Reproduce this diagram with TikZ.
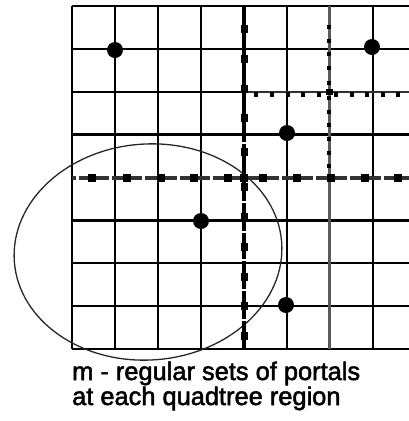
\documentclass[tikz,border=0pt]{standalone}
\usepackage{fontspec}
\setmainfont{Liberation Sans}
\font\capfnt="Liberation Sans:embolden=2" at 25.4bp
\begin{document}
\begin{tikzpicture}[x=1bp,y=-1bp,
  gridline/.style={line width=2.3bp,black},
  bigdot/.style={circle,fill=black,inner sep=0pt,minimum size=16bp},
  bigsq/.style={rectangle,fill=black,inner sep=0pt,minimum width=8bp,minimum height=8bp},
  vsq/.style={rectangle,fill=black,inner sep=0pt,minimum width=7bp,minimum height=8bp},
  smallsq/.style={rectangle,fill=black,inner sep=0pt,minimum width=4bp,minimum height=4.5bp},
  gapw/.style={line width=3.5bp,white},
  caption/.style={anchor=base west,inner sep=0pt,font=\capfnt}]
\useasboundingbox (0,0) rectangle (409,421);
\begin{scope}
\clip (0,0) rectangle (409,421);
% grid
\foreach \i in {0,...,8} {
  \draw[gridline] (72+43*\i,6) -- (72+43*\i,349);
  \draw[gridline] (72,6+42.875*\i) -- (420,6+42.875*\i);
}
% ellipse
\draw[line width=1.3bp,black!85] (148,252) [rotate around={4:(148,252)}] ellipse [x radius=134, y radius=108];
% grey vertical line at x=329
\draw[line width=3bp,black!65] (329,6) -- (329,349);
% horizontal dashed line y=178
\draw[line width=3.2bp,black!80] (72,178) -- (409,178);
\foreach \x in {77,110,143,178,211,280,314,348,382} {
  \draw[gapw] (\x-1.5,178) -- (\x+1.5,178);
}
% vertical dashed line x=244
\draw[line width=3.2bp,black] (244,6) -- (244,349);
\foreach \y in {143,202,232,260,290,320} {
  \draw[white,line width=3.6bp] (244,\y-1) -- (244,\y+1);
}
% horizontal dotted line y=92 right part
\draw[line width=2.4bp,black!80] (244,92) -- (409,92);
\end{scope}
% portals on horizontal y=178
\foreach \x [count=\n] in {92,127,161,194,228} {
  \node[bigsq] (hl\n) at (\x,178) {};
}
\foreach \x [count=\n] in {263,297,331,365,398} {
  \node[bigsq] (hr\n) at (\x,178) {};
}
\node[bigsq] (center) at (244,178) {};
% portals on vertical x=244
\foreach \y [count=\n] in {29,59,89,118,152,187,217,247,277,306,336} {
  \node[vsq] (v\n) at (244,\y) {};
}
% small portals on x=329
\foreach \y [count=\n] in {27,41,54,68,83,98,112,125,139,153,166} {
  \node[smallsq] (d\n) at (329,\y) {};
}
\node[bigsq,minimum width=7bp,minimum height=6bp] (dq) at (329,92) {};
% small portals on y=92
\foreach \x [count=\n] in {256,272,288,303,319,336,352,367,383,398} {
  \node[smallsq] (e\n) at (\x,94.5) {};
}
% points
\node[bigdot] (p1) at (115,50) {};
\node[bigdot] (p2) at (372,47) {};
\node[bigdot] (p3) at (287,133) {};
\node[bigdot] (p4) at (201,221) {};
\node[bigdot] (p5) at (286,305) {};
% caption
\node[caption] (t1) at (72,380) {m - regular sets of portals};
\node[caption] (t2) at (72,405) {at each quadtree region};
\end{tikzpicture}
\end{document}
